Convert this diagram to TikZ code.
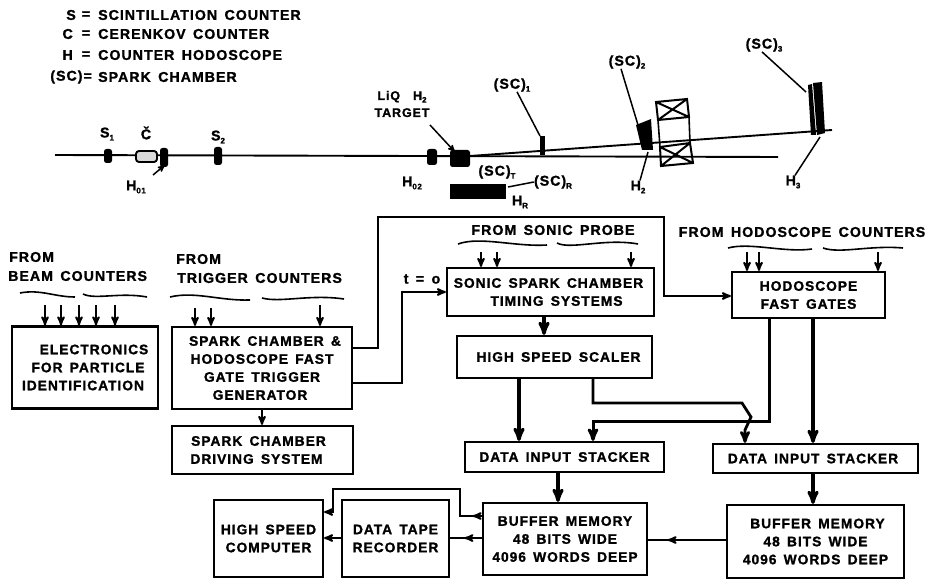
\documentclass[tikz,border=0pt]{standalone}
\usepackage{fontspec}
\setmainfont[LetterSpace=7,WordSpace=1.5,BoldFeatures={FakeBold=1.3}]{Liberation Sans}
\usetikzlibrary{calc,arrows,decorations.markings}
\newcommand{\low}[1]{\raisebox{-.4ex}{\footnotesize #1}}
\tikzset{
>=stealth',
  blockbox/.style={
    rectangle,
    draw=black, line width=2.2pt,
    inner sep=0pt,
    align=center,
    font=\fontsize{13.8}{18}\selectfont\bfseries},
  lbl/.style={inner sep=0pt, font=\fontsize{14.2}{18}\selectfont\bfseries},
  sline/.style={draw, line width=2pt},
  inarrow/.style={sline, ->},
  heavy/.style={draw, line width=3.2pt, -stealth'},
  wavy/.style={draw, line width=1.6pt},
  beamline/.style={draw, line width=1.9pt},
  leader/.style={draw, line width=1.5pt},
  counter/.style={fill=black, rounded corners=2.5pt},
  midarrow/.style={postaction={decorate},
    decoration={markings, mark=at position #1 with {\arrow{>}}}},
}
\begin{document}
\begin{tikzpicture}[x=1pt,y=-1pt]
	\useasboundingbox (0,0) rectangle (941,580);

	% legend
	\node[lbl, anchor=east] (lgs) at (76,15) {S};
	\node[lbl] (lgse) at (86,15) {=};
	\node[lbl, anchor=west] (lgst) at (98,15) {SCINTILLATION COUNTER};
	\node[lbl, anchor=east] (lgc) at (73,34) {C};
	\node[lbl] (lgce) at (86,34) {=};
	\node[lbl, anchor=west] (lgct) at (98,34) {CERENKOV COUNTER};
	\node[lbl, anchor=east] (lgh) at (73,55) {H};
	\node[lbl] (lghe) at (86,55) {=};
	\node[lbl, anchor=west] (lght) at (98,55) {COUNTER HODOSCOPE};
	\node[lbl, anchor=east] (lgsc) at (92,77) {(SC)=};
	\node[lbl, anchor=west] (lgsct) at (98,77) {SPARK CHAMBER};

	% beam line
	\draw[beamline] (55,155) -- (778,157);
	\draw[beamline] (470,156) -- (832,130);
	\fill[counter] (104,149) rectangle (112,163);
	\draw[line width=1.9pt, rounded corners=3pt, fill=black!15] (136,151) rectangle (157,162);
	\fill[counter] (160,148) rectangle (168,167);
	\fill[counter] (214,147) rectangle (222,165);
	\fill[counter] (427,149) rectangle (437,165);
	\fill[counter] (450,150) rectangle (470,167);
	\fill (450,184) rectangle (506,199);
	\fill (540,136) rectangle (545,155);
	\fill (636,125) -- (651,119) -- (653,150) -- (642,150) -- cycle;
	\fill (808,85) -- (812,84) -- (816,135) -- (811,135) -- cycle;
	\fill (813,83) -- (822,82) -- (825,133) -- (817,135) -- cycle;

	% magnet
	\draw[line width=2pt] (656,102) -- (687,99) -- (689,117) -- (658,120) -- cycle
		(656,102) -- (689,117) (687,99) -- (658,120);
	\draw[line width=2pt] (660,147) -- (690,143) -- (693,163) -- (661,166) -- cycle
		(660,147) -- (693,163) (690,143) -- (661,166);
	\draw[line width=1.6pt] (658,120) -- (660,147) (689,117) -- (690,143);

	% labels on the beam line
	\node[lbl] (sa) at (107,134) {S\low{1}};
	\node[lbl] (cer) at (146,133) {Č};
	\node[lbl] (sb) at (218,137) {S\low{2}};
	\node[lbl] (hoa) at (136,187) {H\low{01}};
	\node[lbl] (hob) at (412,183) {H\low{02}};
	\node[lbl, align=center, font=\fontsize{12.5}{17}\selectfont\bfseries] (targ) at (402,104) {LiQ\ \ H\low{2}\\TARGET};
	\node[lbl] (sca) at (512,85) {(SC)\low{1}};
	\node[lbl] (scb) at (627,62) {(SC)\low{2}};
	\node[lbl] (scc) at (764,45) {(SC)\low{3}};
	\node[lbl] (sct) at (497,172) {(SC)\low{T}};
	\node[lbl] (scr) at (553,182) {(SC)\low{R}};
	\node[lbl] (hr) at (520,202) {H\low{R}};
	\node[lbl] (hbb) at (638,187) {H\low{2}};
	\node[lbl] (hcc) at (793,182) {H\low{3}};

	\coordinate (ptarg) at (455,152);
	\coordinate (phoa) at (165,165);
	\coordinate (psca) at (540,136);
	\coordinate (pscb) at (638,125);
	\coordinate (pscc) at (806,92);
	\coordinate (phbb) at (648,152);
	\coordinate (phcc) at (820,137);
	\coordinate (pscr) at (508,187);
	\draw[leader, ->] (430,125) -- (ptarg);
	\draw[leader, ->] (153,175) -- (phoa);
	\draw[leader] (sca.south) ++(5,0) -- (psca);
	\draw[leader] (scb.south) ++(-6,0) -- (pscb);
	\draw[leader] (scc.south) ++(-2,0) -- (pscc);
	\draw[leader] (hbb.north) ++(2,0) -- (phbb);
	\draw[leader] (hcc.north) ++(2,0) -- (phcc);
	\draw[leader] (scr.west) -- (pscr);

	% blocks
	\node[blockbox, minimum width=146pt, minimum height=82pt] (elec) at (85,367.5) {\hspace*{18pt}ELECTRONICS\\\hspace*{6pt}FOR PARTICLE\\IDENTIFICATION\hspace*{4pt}};
	\node[blockbox, minimum width=180pt, minimum height=82pt] (trig) at (262,368) {\hspace*{6pt}SPARK CHAMBER \&\\HODOSCOPE FAST\hspace*{10pt}\\GATE TRIGGER\hspace*{24pt}\\GENERATOR\hspace*{4pt}};
	\node[blockbox, minimum width=181pt, minimum height=48pt] (driv) at (262.5,450) {SPARK CHAMBER\hspace*{8pt}\\DRIVING SYSTEM\hspace*{12pt}};
	\node[blockbox, minimum width=109pt, minimum height=77pt] (comp) at (268.5,538.5) {HIGH SPEED\\COMPUTER};
	\node[blockbox, minimum width=107pt, minimum height=77pt] (tape) at (395.5,538.5) {DATA TAPE\\RECORDER};
	\node[blockbox, minimum width=207pt, minimum height=48pt] (sonic) at (550.5,292) {SONIC SPARK CHAMBER\hspace*{4pt}\\\hspace*{12pt}TIMING SYSTEMS};
	\node[blockbox, minimum width=195pt, minimum height=42pt] (scal) at (554.5,357) {\hspace*{8pt}HIGH SPEED SCALER};
	\node[blockbox, minimum width=199pt, minimum height=30pt] (stka) at (564.5,457) {DATA INPUT STACKER};
	\node[blockbox, minimum width=205pt, minimum height=29pt] (stkb) at (815.5,458.5) {DATA INPUT STACKER\hspace*{5pt}};
	\node[blockbox, minimum width=164pt, minimum height=72pt] (bufa) at (565,539) {BUFFER MEMORY\\48 BITS WIDE\hspace*{9pt}\\4096 WORDS DEEP};
	\node[blockbox, minimum width=177pt, minimum height=73pt] (bufb) at (815.5,541.5) {\hspace*{4pt}BUFFER MEMORY\\48 BITS WIDE\hspace*{10pt}\\4096 WORDS DEEP};
	\node[blockbox, minimum width=153pt, minimum height=46pt] (gate) at (808.5,295) {HODOSCOPE\\FAST GATES};

	% headings of the inputs
	\node[lbl, anchor=west] (hba) at (9,257) {FROM};
	\node[lbl, anchor=west] (hbb2) at (8,276) {BEAM COUNTERS};
	\node[lbl, anchor=west] (hta) at (176,259) {FROM};
	\node[lbl, anchor=west] (htb) at (177,278) {TRIGGER COUNTERS};
	\node[lbl] (hsp) at (553,230) {FROM SONIC PROBE};
	\node[lbl] (hhd) at (802,232) {FROM HODOSCOPE COUNTERS};
	\node[lbl] (tz) at (422,279) {t = o};

	\draw[wavy] (20,293) .. controls (40,289) and (55,297) .. (75,297);
	\draw[wavy] (83,294) .. controls (95,300) and (120,292) .. (147,297);
	\draw[wavy] (170,297) .. controls (195,291) and (220,301) .. (250,300);
	\draw[wavy] (262,298) .. controls (280,303) and (310,294) .. (344,299);
	\draw[wavy] (458,244) .. controls (480,236) and (515,247) .. (547,245);
	\draw[wavy] (557,243) .. controls (570,250) and (605,238) .. (638,244);
	\draw[wavy] (728,248) .. controls (750,242) and (785,253) .. (812,249);
	\draw[wavy] (823,248) .. controls (840,254) and (870,245) .. (903,248);

	% inputs
	\foreach \x in {45,61,79,96,115} {
		\coordinate (ib\x) at (\x,305);
		\draw[inarrow] (ib\x) -- (ib\x |- elec.north);
	}
	\foreach \x/\y in {195/308,211/308,320/305} {
		\coordinate (it\x) at (\x,\y);
		\draw[inarrow] (it\x) -- (it\x |- trig.north);
	}
	\foreach \x in {481,497,631} {
		\coordinate (is\x) at (\x,252);
		\draw[inarrow] (is\x) -- (is\x |- sonic.north);
	}
	\foreach \x in {747,759,878} {
		\coordinate (ih\x) at (\x,252);
		\draw[inarrow] (ih\x) -- (ih\x |- gate.north);
	}

	% trigger outputs
	\coordinate (rta) at (378,348);
	\coordinate (rtb) at (664,217);
	\coordinate (rtc) at (664,296);
	\coordinate (rtd) at (402,383);
	\coordinate (rte) at (402,292);
	\draw[sline, ->] (trig.east |- rta) -- (rta) -- (rta |- rtb) -- (rtb) -- (rtc) -- (rtc -| gate.west);
	\draw[sline, ->] (trig.east |- rtd) -- (rtd) -- (rte) -- (rte -| sonic.west);
	\draw[sline, ->] (trig.south) -- (trig.south |- driv.north);

	% data paths
	\coordinate (xa) at (544,0);
	\coordinate (xb) at (519,0);
	\coordinate (xc) at (558,0);
	\coordinate (xd) at (813,0);
	\draw[heavy] (xa |- sonic.south) -- (xa |- scal.north);
	\draw[heavy] (xb |- scal.south) -- (xb |- stka.north);
	\draw[heavy] (xc |- stka.south) -- (xc |- bufa.north);
	\draw[heavy] (xd |- gate.south) -- (xd |- stkb.north);
	\draw[heavy] (xd |- stkb.south) -- (xd |- bufb.north);

	\coordinate (sra) at (593,403);
	\coordinate (srb) at (742,403);
	\coordinate (src) at (751,417);
	\coordinate (srd) at (745,430);
	\draw[sline, line width=2.8pt, ->] (sra |- scal.south) -- (sra) -- (srb) -- (src) -- (srd) -- (srd |- stkb.north);
	\coordinate (gra) at (769,421);
	\coordinate (grb) at (593,421);
	\draw[heavy, line width=3pt] (gra |- gate.south) -- (gra) -- (grb) -- (grb |- stka.north);

	% towards the computer
	\coordinate (bya) at (0,540);
	\coordinate (byb) at (0,538);
	\draw[sline, midarrow=.75] (bufb.west |- bya) -- (bufa.east |- bya);
	\draw[sline, midarrow=.55] (bufa.west |- byb) -- (tape.east |- byb);
	\draw[sline, ->] (tape.west |- byb) -- (comp.east |- byb);
	\coordinate (bua) at (483,516);
	\coordinate (bub) at (460,489);
	\coordinate (buc) at (333,489);
	\coordinate (bud) at (333,512);
	\draw[sline, ->, midarrow=.05] (bua) -- (bub |- bua) -- (bub) -- (buc) -- (bud) -- (bud -| comp.east);
\end{tikzpicture}
\end{document}
